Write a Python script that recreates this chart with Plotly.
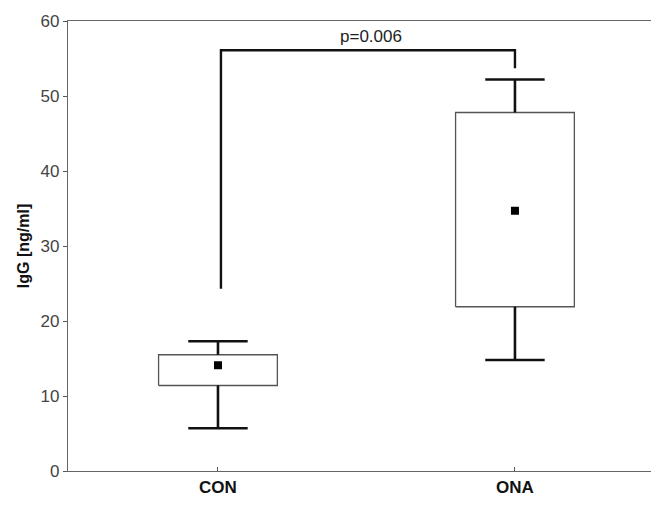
import plotly.graph_objects as go

categories = ["CON", "ONA"]
positions = [0, 1]
whisker_low = [5.7, 14.8]
q1 = [11.4, 21.9]
q3 = [15.5, 47.8]
whisker_high = [17.3, 52.2]
means = [14.1, 34.7]

bracket_left_bottom = 24.3
bracket_top = 56.1
bracket_right_bottom = 53.7
p_label = "p=0.006"

y_ticks = [0, 10, 20, 30, 40, 50, 60]

box_half = 0.2
cap_half = 0.1

fig = go.Figure()

for x, lo, a, b, hi in zip(positions, whisker_low, q1, q3, whisker_high):
    fig.add_trace(go.Scatter(
        x=[x - box_half, x + box_half, x + box_half, x - box_half, x - box_half],
        y=[a, a, b, b, a], mode="lines",
        line=dict(color="#555555", width=1.3), showlegend=False, hoverinfo="skip"))
    fig.add_trace(go.Scatter(
        x=[x, x, None, x - cap_half, x + cap_half, None, x, x, None, x - cap_half, x + cap_half],
        y=[a, lo, None, lo, lo, None, b, hi, None, hi, hi], mode="lines",
        line=dict(color="#111111", width=2.6), showlegend=False, hoverinfo="skip"))

fig.add_trace(go.Scatter(
    x=positions, y=means, mode="markers",
    marker=dict(symbol="square", size=8, color="black"),
    showlegend=False, hoverinfo="skip"))

fig.add_trace(go.Scatter(
    x=[positions[0] + 0.01, positions[0] + 0.01, positions[1], positions[1]],
    y=[bracket_left_bottom, bracket_top, bracket_top, bracket_right_bottom],
    mode="lines", line=dict(color="#111111", width=2.4),
    showlegend=False, hoverinfo="skip"))

fig.add_annotation(x=(positions[0] + positions[1]) / 2 + 0.015, y=bracket_top,
                   text=p_label, showarrow=False, yanchor="bottom", yshift=2,
                   font=dict(family="Liberation Sans, Arial", size=17, color="#222222"))

fig.update_layout(
    width=651, height=502,
    margin=dict(l=60, r=0, t=13, b=39),
    plot_bgcolor="white", paper_bgcolor="white",
    xaxis=dict(range=[-0.505, 1.485], tickvals=positions, ticktext=categories,
               ticks="inside", ticklen=4, tickcolor="#555555",
               showgrid=False, zeroline=False,
               showline=True, linecolor="#666666", linewidth=1.3, mirror=True,
               tickfont=dict(family="Liberation Sans, Arial", size=17, color="#111111", weight="bold")),
    yaxis=dict(range=[0, 60], tickvals=y_ticks,
               ticks="outside", ticklen=4, tickcolor="#555555",
               showgrid=False, zeroline=False,
               showline=True, linecolor="#666666", linewidth=1.3,
               tickfont=dict(family="Liberation Sans, Arial", size=17, color="#444444"),
               title=dict(text="IgG [ng/ml]", standoff=6,
                          font=dict(family="Liberation Sans, Arial", size=16, color="#111111", weight="bold"))),
)

fig.write_html("out.html")
